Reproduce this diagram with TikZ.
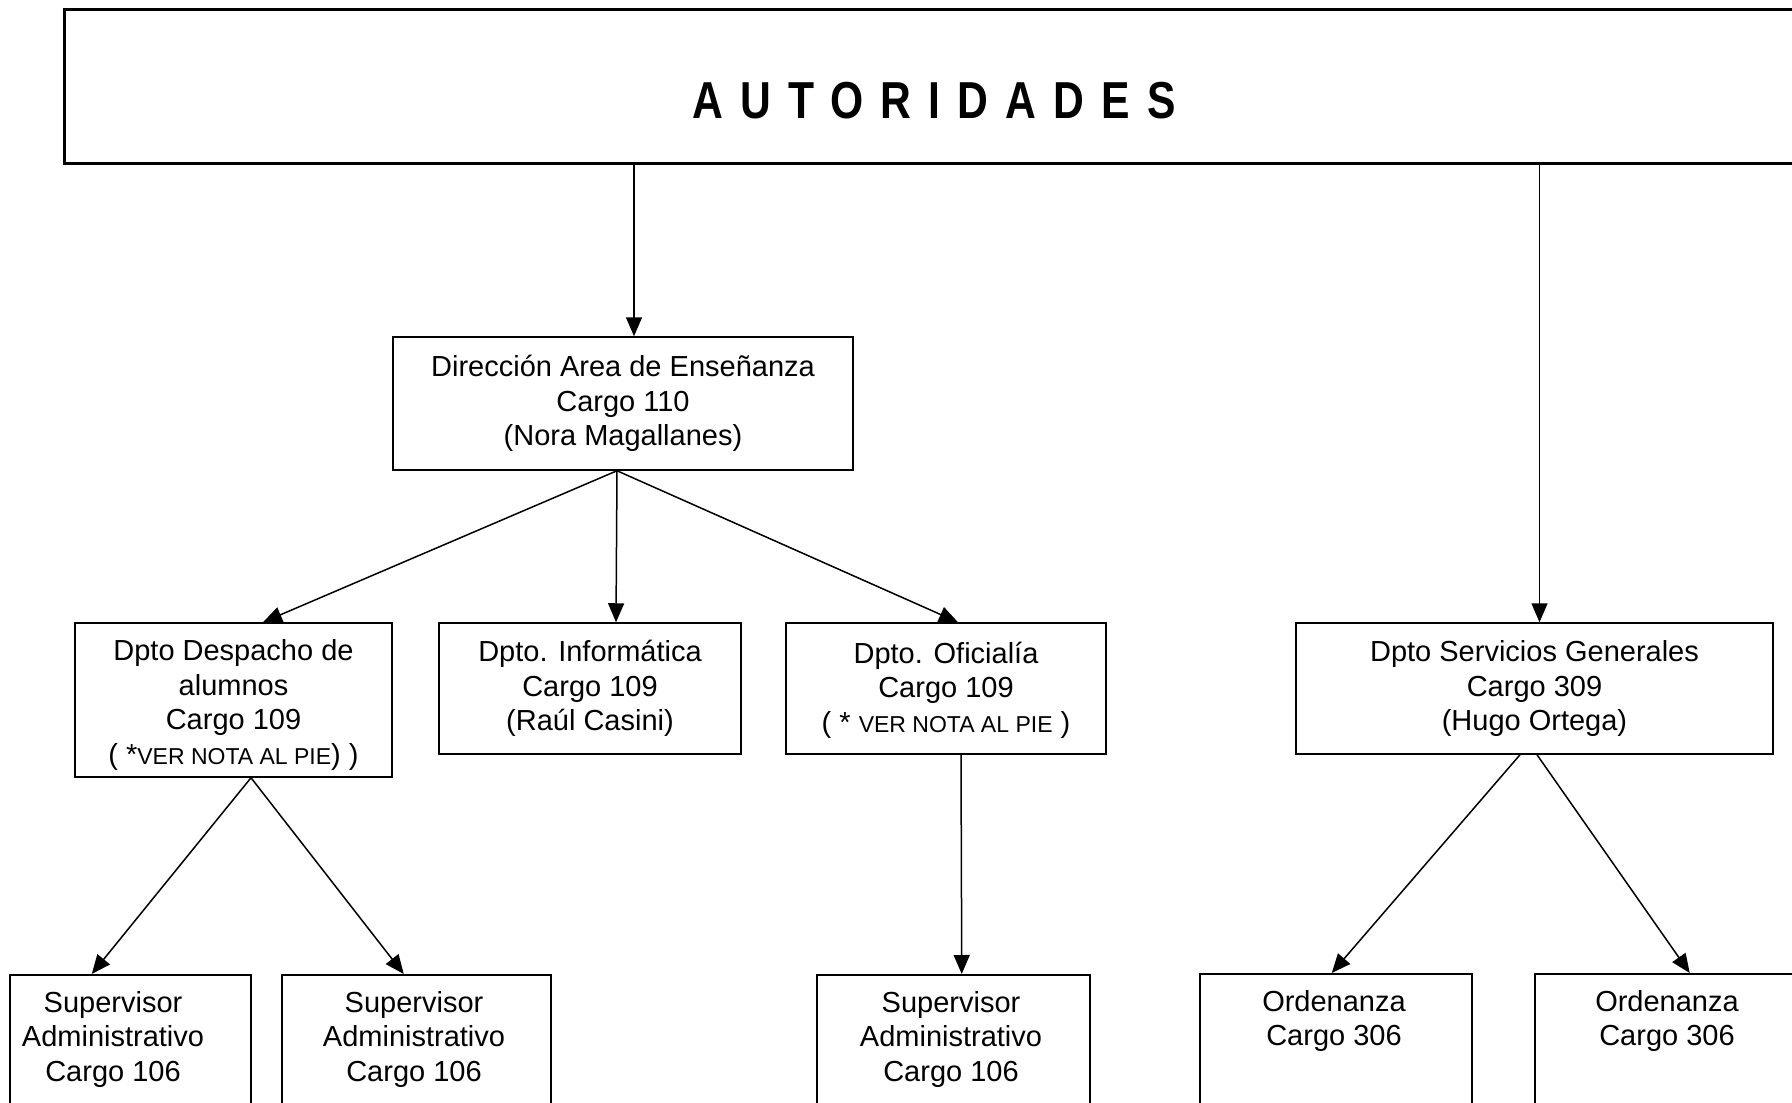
\documentclass[tikz,border=0pt]{standalone}
\usepackage{fontspec}
\setmainfont{Liberation Sans}
\newfontfamily\titlefont[LetterSpace=33,FakeStretch=0.82]{Liberation Sans}
\usetikzlibrary{arrows.meta}
\newcommand\vnota[1]{{\fontsize{23}{34}\selectfont #1}}
\begin{document}
\begin{tikzpicture}[x=1pt,y=-1pt,
  box/.style={draw, line width=1.5pt, inner sep=0pt, align=center, font=\fontsize{29}{34.5}\selectfont},
  frame/.style={draw, line width=1.5pt, inner sep=0pt},
  txt/.style={inner sep=0pt, align=center, font=\fontsize{29}{34.5}\selectfont},
  arr/.style={line width=1.5pt, -{Triangle[length=19pt,width=16pt]}}]
\useasboundingbox (0,0) rectangle (1792,1103);
\clip (0,0) rectangle (1792,1103);
% top box
\node[draw, line width=2.6pt, minimum width=1792pt, minimum height=154pt, anchor=north west, inner sep=0pt] (top) at (63,8) {};
\node[inner sep=0pt, font=\titlefont\bfseries\fontsize{52}{52}\selectfont] (title) at (934,101) {AUTORIDADES};
% second level
\node[box, minimum width=460pt, minimum height=133pt] (dir) at (623,403.5) {Dirección Area de Enseñanza\\Cargo 110\\(Nora Magallanes)};
% third level
\node[frame, minimum width=317pt, minimum height=154pt] (desp) at (233.5,700) {};
\node[txt] (despt) at (233.5,705) {Dpto Despacho de\\alumnos\\Cargo 109\\( *\vnota{VER NOTA AL PIE}) )};
\node[box, minimum width=302pt, minimum height=131pt] (info) at (590,688.5) {Dpto. Informática\\Cargo 109\\(Raúl Casini)};
\node[frame, minimum width=320pt, minimum height=131pt] (ofic) at (946,688.5) {};
\node[txt] (ofict) at (946,690) {Dpto. Oficialía\\Cargo 109\\( * \vnota{VER NOTA AL PIE} )};
\node[box, minimum width=477pt, minimum height=131pt] (serv) at (1534.5,688.5) {Dpto Servicios Generales\\Cargo 309\\(Hugo Ortega)};
% bottom level
\node[frame, minimum width=241pt, minimum height=200pt, anchor=north west] (s1) at (9,974) {};
\node[txt, anchor=north] (s1t) at (113,991) {Supervisor\\Administrativo\\Cargo 106};
\node[frame, minimum width=269pt, minimum height=200pt, anchor=north west] (s2) at (281,974) {};
\node[txt, anchor=north] (s2t) at (414,991) {Supervisor\\Administrativo\\Cargo 106};
\node[frame, minimum width=273pt, minimum height=200pt, anchor=north west] (s3) at (816,974) {};
\node[txt, anchor=north] (s3t) at (951,991) {Supervisor\\Administrativo\\Cargo 106};
\node[frame, minimum width=272pt, minimum height=200pt, anchor=north west] (o1) at (1199,973) {};
\node[txt, anchor=north] (o1t) at (1334,990) {Ordenanza\\Cargo 306};
\node[frame, minimum width=300pt, minimum height=200pt, anchor=north west] (o2) at (1534,973) {};
\node[txt, anchor=north] (o2t) at (1667,990) {Ordenanza\\Cargo 306};
% connectors
\draw[arr] ([xshift=11pt]dir.north |- top.south) -- ([xshift=11pt]dir.north);
\draw[arr] ([xshift=5pt]serv.north |- top.south) -- ([xshift=5pt]serv.north);
\draw[arr] ([xshift=-6pt]dir.south) -- ([xshift=29.5pt]desp.north);
\draw[arr] ([xshift=-6pt]dir.south) -- ([xshift=26pt]info.north);
\draw[arr] ([xshift=-6pt]dir.south) -- ([xshift=12pt]ofic.north);
\draw[arr] ([xshift=17.5pt]desp.south) -- ([xshift=-38.5pt]s1.north);
\draw[arr] ([xshift=17.5pt]desp.south) -- ([xshift=-12.5pt]s2.north);
\draw[arr] ([xshift=15pt]ofic.south) -- ([xshift=8.5pt]s3.north);
\draw[arr] ([xshift=-14.5pt]serv.south) -- ([xshift=-4pt]o1.north);
\draw[arr] ([xshift=2.5pt]serv.south) -- ([xshift=5pt]o2.north);
\end{tikzpicture}
\end{document}
